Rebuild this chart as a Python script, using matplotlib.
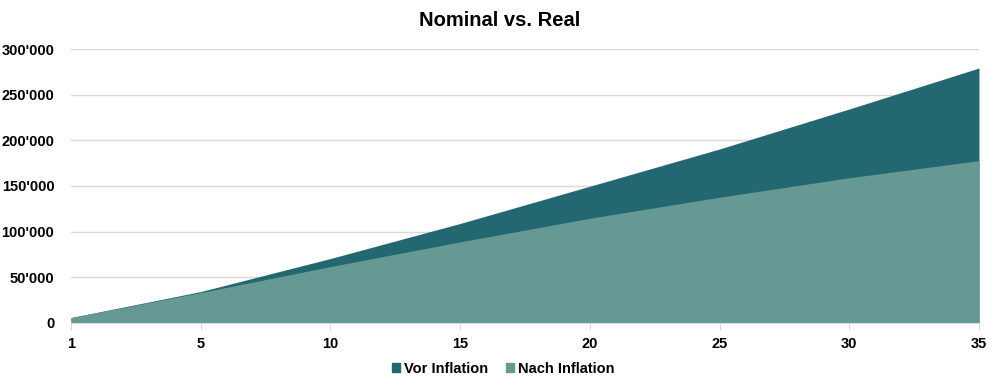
import matplotlib
matplotlib.use("Agg")
import matplotlib.pyplot as plt
from matplotlib.ticker import FuncFormatter
from matplotlib.patches import Patch
import numpy as np

plt.rcParams['font.family'] = ['Liberation Sans', 'DejaVu Sans']

# Data
years = ['1', '5', '10', '15', '20', '25', '30', '35']
vor_inflation = [5800, 34300, 70500, 108900, 149700, 190500, 234300, 279200]
nach_inflation = [5800, 33200, 61700, 88700, 114600, 137700, 159000, 177700]

dark = '#236870'
light = '#669894'

fig = plt.figure(figsize=(10, 3.89), dpi=100)
ax = fig.add_axes([0.071, 0.170, 0.908, 0.704])

x = np.arange(len(years))
ax.fill_between(x, 0, vor_inflation, color=dark, linewidth=0, zorder=2)
ax.fill_between(x, 0, nach_inflation, color=light, linewidth=0, zorder=3)

ax.set_xlim(0, len(years) - 1)
ax.set_ylim(0, 300000)
ax.set_xticks(x)
ax.set_xticklabels(years)
ax.set_yticks(np.arange(0, 300001, 50000))
ax.yaxis.set_major_formatter(FuncFormatter(lambda v, p: f"{int(v):,}".replace(',', "'")))

ax.grid(axis='y', color='#d9d9d9', linewidth=1, zorder=0)
ax.set_axisbelow(True)
for s in ['top', 'right', 'left']:
    ax.spines[s].set_visible(False)
ax.spines['bottom'].set_color('#d9d9d9')
ax.spines['bottom'].set_zorder(4)
ax.tick_params(axis='y', length=0, pad=12, labelsize=10.5)
ax.tick_params(axis='x', length=5, color='#d9d9d9', pad=5, labelsize=10.5)
for lbl in ax.get_xticklabels() + ax.get_yticklabels():
    lbl.set_fontweight('bold')

fig.text(0.5, 0.947, 'Nominal vs. Real', ha='center', va='center',
         fontsize=14.5, fontweight='bold')

handles = [Patch(color=dark, label='Vor Inflation'), Patch(color=light, label='Nach Inflation')]
fig.legend(handles=handles, loc='center', bbox_to_anchor=(0.503, 0.052), ncol=2,
           frameon=False, handlelength=0.55, handleheight=0.55, handletextpad=0.3,
           columnspacing=1.2, prop={'weight': 'bold', 'size': 10.5})

fig.savefig('out.png', dpi=100)
